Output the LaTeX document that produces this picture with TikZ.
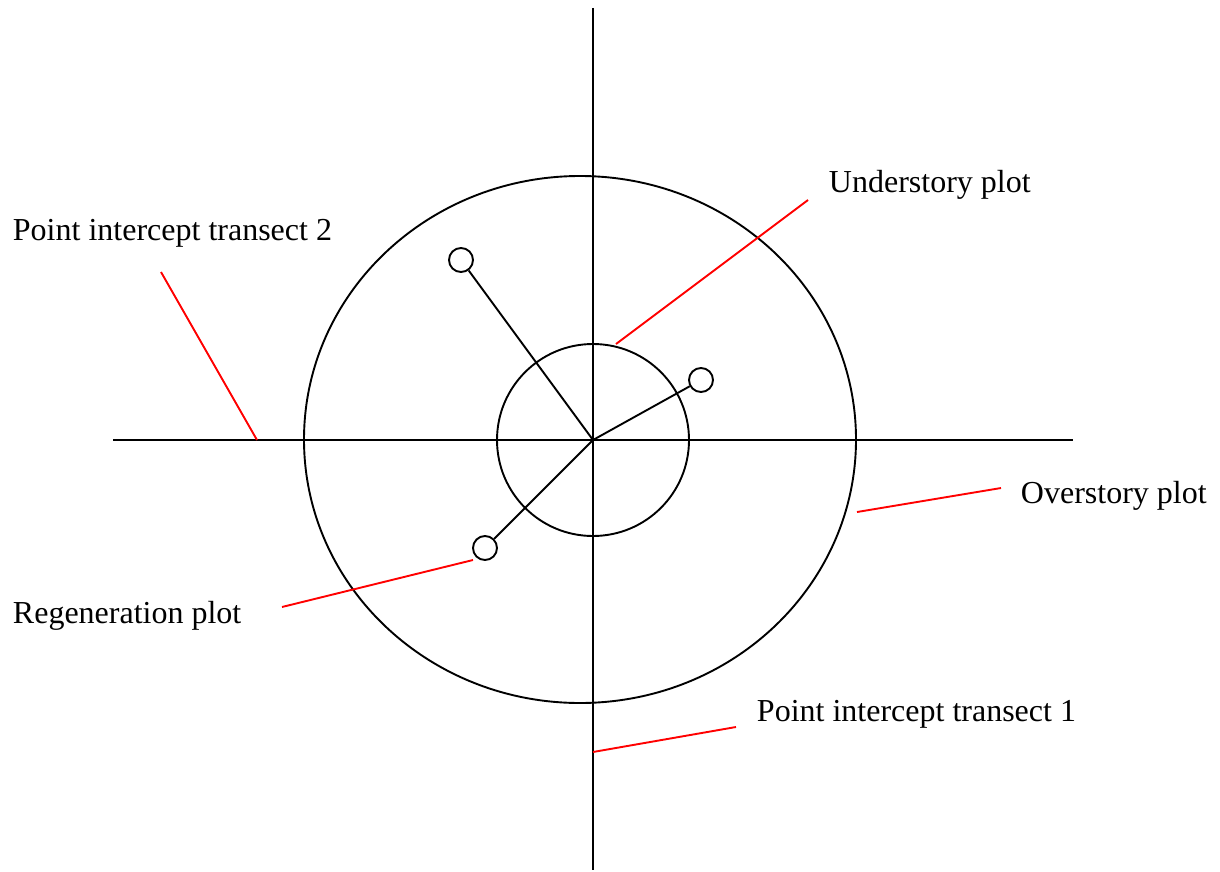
\documentclass[tikz,border=0pt]{standalone}
\usepackage{fontspec}
\setmainfont{Liberation Serif}
\usetikzlibrary{positioning}
\tikzset{
  lbl/.style={anchor=base west,inner sep=0pt,font=\fontsize{32}{38}\selectfont},
  regplot/.style={draw,circle,minimum size=24pt,inner sep=0pt},
  leader/.style={red}
}

\begin{document}
\begin{tikzpicture}[x=1pt,y=-1pt,line width=1.9pt]
  \useasboundingbox (0,0) rectangle (1220,872);
  \coordinate (c) at (593,440);
  \coordinate (o) at (580,439.5);
  \coordinate (t1a) at (593,8);
  \coordinate (t1b) at (593,870);
  \coordinate (t2a) at (113,440);
  \coordinate (t2b) at (1073,440);
  \draw (t1a) -- (t1b);
  \draw (t2a) -- (t2b);
  \draw (o) ellipse [x radius=276pt, y radius=263.5pt];
  \draw (c) circle [radius=96pt];
  \node[regplot] (r1) at (461,260) {};
  \node[regplot] (r2) at (701,380) {};
  \node[regplot] (r3) at (485,548) {};
  \draw (c) -- (r1);
  \draw (c) -- (r2);
  \draw (c) -- (r3);
  \node[lbl] (pit2) at (12,240) {Point intercept transect 2};
  \node[lbl] (under) at (828,192) {Understory plot};
  \node[lbl] (over) at (1020,503) {Overstory plot};
  \node[lbl] (regen) at (12,623) {Regeneration plot};
  \node[lbl] (pit1) at (756,721) {Point intercept transect 1};
  \coordinate (l2a) at (161,272);
  \coordinate (l2b) at (257,440);
  \coordinate (lua) at (808,200);
  \coordinate (lub) at (616,344);
  \coordinate (loa) at (1001,488);
  \coordinate (lob) at (857,512);
  \coordinate (lra) at (282,607);
  \coordinate (lrb) at (473,560);
  \coordinate (l1a) at (736,727);
  \coordinate (l1b) at (593,752);
  \draw[leader] (l2a) -- (l2b);
  \draw[leader] (lua) -- (lub);
  \draw[leader] (loa) -- (lob);
  \draw[leader] (lra) -- (lrb);
  \draw[leader] (l1a) -- (l1b);
\end{tikzpicture}
\end{document}
